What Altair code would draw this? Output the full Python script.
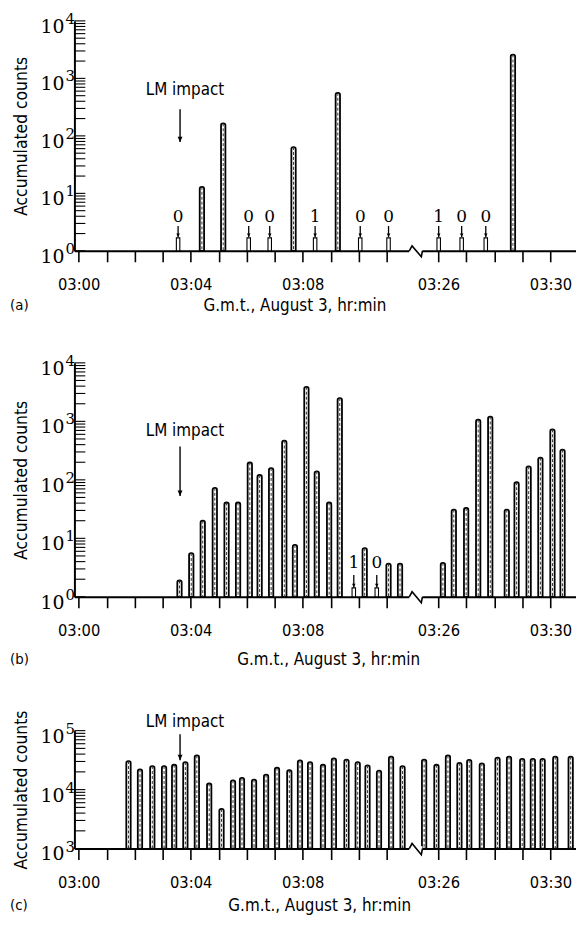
import altair as alt
import pandas as pd

# ---------------- data (times in minutes after 03:00 G.m.t.) ----------------
A_BAR_T = [4.40, 5.16, 7.67, 9.25, 28.66]
A_BAR_V = [13, 165, 64, 560, 2600]
A_ZERO_T = [3.55, 6.07, 6.82, 8.44, 10.05, 11.06, 26.01, 26.83, 27.69]
A_ZERO_LBL = ["0", "0", "0", "1", "0", "0", "1", "0", "0"]

B_BAR_T = [3.60, 4.02, 4.43, 4.86, 5.28, 5.69, 6.11, 6.46, 6.87, 7.34,
           7.72, 8.13, 8.50, 8.94, 9.32, 10.21, 11.06, 11.47,
           26.16, 26.55, 26.99, 27.42, 27.85, 28.44, 28.79, 29.22, 29.64, 30.07, 30.43]
B_BAR_V = [1.9, 5.6, 20, 73, 41, 41, 198, 121, 159, 470,
           7.7, 3900, 140, 41, 2500, 6.8, 3.7, 3.7,
           3.8, 31, 33, 1070, 1210, 31, 91, 170, 240, 730, 330]
B_ZERO_T = [9.82, 10.64]
B_ZERO_LBL = ["1", "0"]

C_BAR_T = [1.78, 2.19, 2.63, 3.05, 3.41, 3.81, 4.22, 4.66, 5.10, 5.51,
           5.83, 6.26, 6.69, 7.08, 7.52, 7.90, 8.26, 8.72, 9.11, 9.56,
           9.96, 10.31, 10.72, 11.15, 11.56,
           25.49, 25.93, 26.34, 26.75, 27.10, 27.55, 28.11, 28.52, 28.99, 29.37,
           29.72, 30.17, 30.72]
C_BAR_V = [30500, 22100, 25100, 25100, 26400, 29300, 38000, 12700, 4700, 14400,
           15800, 14800, 17900, 23500, 21300, 31300, 29300, 26400, 33800, 32300,
           29300, 25800, 21000, 36200, 25100,
           32300, 26400, 38000, 28500, 31900, 27900, 34900, 36200, 33300, 33300,
           33300, 36200, 36200]

LM_T = 3.62
# annotation heights in counts: (text, arrow start, arrow tip)
A_LM = (617, 290, 78)
B_LM = (690, 370, 53)
C_LM = (142000, 87000, 31500)
# zero-count stubs: (stub top, arrow start, arrow tip, label)
A_STUB = (1.68, 2.7, 1.75, 3.87)
B_STUB = (1.42, 2.35, 1.45, 3.83)

TICK_MIN = [0, 1, 2, 3, 4, 5, 6, 7, 8, 9, 10, 11, 26, 27, 28, 29, 30]
LABELLED_MIN = [0, 4, 8, 26, 30]
LABELLED_TXT = ["03:00", "03:04", "03:08", "03:26", "03:30"]
X_TITLE = "G.m.t., August 3, hr:min"
Y_TITLE = "Accumulated counts"

# axis break (axis units) and zig-zag factors
BREAK_POS = [11.80, 11.90, 12.23, 12.27]
BREAK_F = [1.0, 1.22, 0.79, 1.0]

SHIFT = 13.16  # minutes removed by the axis break


def to_pos(t):
    return t if t < 20 else round(t - SHIFT, 3)


SANS = "DejaVu Sans Condensed, DejaVu Sans"
SERIF = "DejaVu Serif"
W = 506
XDOM = [-0.15, 17.75]

label_expr = " : ".join(
    f"abs(datum.value-{to_pos(m):.3f})<0.01 ? '{t}'" for m, t in zip(LABELLED_MIN, LABELLED_TXT)
) + " : ''"


def panel(bar_t, bar_v, zero_t, zero_lbl, base, top_v, H, y_top, exps, letter,
          title_x, title_dy, lm, stub, decade_sub):
    ys = alt.Scale(type="log", domain=[base, top_v], nice=False, range=[H, y_top], padding=0)
    xs = alt.Scale(domain=XDOM, nice=False, zero=False, padding=0)
    xaxis = alt.Axis(values=[to_pos(m) for m in TICK_MIN], labelExpr=label_expr,
                     tickSize=11, tickWidth=1.6, tickColor="black",
                     domainColor="black", domainWidth=2, grid=False,
                     labelFont=SANS, labelFontSize=16.5, labelColor="black",
                     labelPadding=15, labelFlush=False, labelOverlap=False,
                     title=X_TITLE, titleX=title_x, titleY=title_dy,
                     titleAlign="center", titleBaseline="middle",
                     titleFont=SANS, titleFontSize=17, titleFontWeight="normal",
                     titleColor="black")
    yaxis = alt.Axis(labels=False, ticks=False, grid=False,
                     domainColor="black", domainWidth=2,
                     title=Y_TITLE, titleX=-53, titleY=(H + y_top) / 2,
                     titleAngle=270, titleAlign="center", titleBaseline="middle",
                     titleFont=SANS, titleFontSize=17.5, titleFontWeight="normal",
                     titleColor="black")
    X = alt.X("pos:Q", scale=xs, axis=xaxis)
    Y = alt.Y("v:Q", scale=ys, axis=yaxis)

    bars = pd.DataFrame({"pos": [to_pos(t) for t in bar_t], "v": bar_v, "base": base})
    layers = []
    layers.append(alt.Chart(bars).mark_bar(
        size=4.4, fill="white", stroke="black", strokeWidth=1.8,
        cornerRadiusTopLeft=2, cornerRadiusTopRight=2).encode(x=X, y=Y, y2="base:Q"))
    layers.append(alt.Chart(bars).mark_rule(
        color="#333", strokeWidth=1, strokeDash=[3, 2]).encode(x=X, y=Y, y2="base:Q"))

    if zero_t:
        zp = [to_pos(t) for t in zero_t]
        s_top, a_top, a_tip, l_y = stub
        stubs = pd.DataFrame({"pos": zp, "v": s_top, "base": base})
        layers.append(alt.Chart(stubs).mark_bar(
            size=3.5, fill="white", stroke="black", strokeWidth=1.1).encode(x=X, y=Y, y2="base:Q"))
        arr = pd.DataFrame({"pos": zp, "v": a_top, "v2": a_tip})
        layers.append(alt.Chart(arr).mark_rule(color="black", strokeWidth=1.3).encode(
            x=X, y=Y, y2="v2:Q"))
        heads = pd.DataFrame({"pos": zp, "v": a_tip})
        layers.append(alt.Chart(heads).mark_point(
            shape="M-0.5,-1L0.5,-1L0,0Z", filled=True, color="black", size=50, opacity=1).encode(x=X, y=Y))
        lbl = pd.DataFrame({"pos": zp, "v": l_y, "t": zero_lbl})
        layers.append(alt.Chart(lbl).mark_text(
            font=SERIF, fontSize=17, baseline="middle", color="black").encode(x=X, y=Y, text="t:N"))

    t_v, a_top, a_tip = lm
    lmtxt = pd.DataFrame({"pos": [LM_T], "v": [t_v], "t": ["LM impact"]})
    layers.append(alt.Chart(lmtxt).mark_text(
        font=SANS, fontSize=17, baseline="middle", dx=5, color="black").encode(x=X, y=Y, text="t:N"))
    lmarr = pd.DataFrame({"pos": [LM_T], "v": [a_top], "v2": [a_tip]})
    layers.append(alt.Chart(lmarr).mark_rule(color="black", strokeWidth=1.4).encode(x=X, y=Y, y2="v2:Q"))
    lmhead = pd.DataFrame({"pos": [LM_T], "v": [a_tip]})
    layers.append(alt.Chart(lmhead).mark_point(
        shape="M-0.45,-1L0.45,-1L0,0Z", filled=True, color="black", size=120, opacity=1).encode(x=X, y=Y))

    # inward y ticks
    ticks = [m * 10 ** e for e in range(decade_sub[0], decade_sub[1]) for m in range(1, 10)] + [top_v]
    tdf = pd.DataFrame({"v": ticks})
    layers.append(alt.Chart(tdf).mark_rule(color="black", strokeWidth=1.1).encode(
        y=Y, x=alt.value(0), x2=alt.value(11)))

    # decade labels 10^n
    ddf = pd.DataFrame({"v": [10 ** e for e in exps], "e": [str(e) for e in exps], "t": "10"})
    layers.append(alt.Chart(ddf).mark_text(
        font=SERIF, fontSize=19, align="right", baseline="middle", dy=6, color="black").encode(
        y=Y, x=alt.value(-10), text="t:N"))
    layers.append(alt.Chart(ddf).mark_text(
        font=SERIF, fontSize=15, align="left", baseline="middle", dy=-2, color="black").encode(
        y=Y, x=alt.value(-9), text="e:N"))

    # axis break
    cover = pd.DataFrame({"pos": [BREAK_POS[0]], "p2": [BREAK_POS[-1]], "v": [base]})
    layers.append(alt.Chart(cover).mark_rule(color="white", strokeWidth=5).encode(
        x=X, x2="p2:Q", y=Y))
    zz = pd.DataFrame({"pos": BREAK_POS, "v": [base * f for f in BREAK_F], "o": list(range(len(BREAK_POS)))})
    layers.append(alt.Chart(zz).mark_line(color="black", strokeWidth=1.6).encode(
        x=X, y=Y, order="o:Q"))

    # panel letter
    ldf = pd.DataFrame({"t": [letter]})
    layers.append(alt.Chart(ldf).mark_text(
        font=SANS, fontSize=15, align="left", baseline="middle", color="black").encode(
        x=alt.value(-65), y=alt.value(H + title_dy), text="t:N"))

    return alt.layer(*layers).properties(width=W, height=H)


pa = panel(A_BAR_T, A_BAR_V, A_ZERO_T, A_ZERO_LBL, 1, 1e4, 232, 0, [0, 1, 2, 3, 4], "(a)",
           222, 55, A_LM, A_STUB, (0, 4))
pb = panel(B_BAR_T, B_BAR_V, B_ZERO_T, B_ZERO_LBL, 1, 1e4, 236, 0, [0, 1, 2, 3, 4], "(b)",
           256, 63, B_LM, B_STUB, (0, 4))
pc = panel(C_BAR_T, C_BAR_V, [], [], 1e3, 1e5, 141, 22, [3, 4, 5], "(c)",
           247, 57, C_LM, None, (3, 5))

chart = alt.vconcat(pa, pb, pc, spacing=113, bounds="flush").properties(
    padding={"left": 2, "top": 0, "right": 0, "bottom": 0}
).configure_view(stroke=None)

chart.save("out.html", embed_options={"renderer": "svg", "actions": False})
